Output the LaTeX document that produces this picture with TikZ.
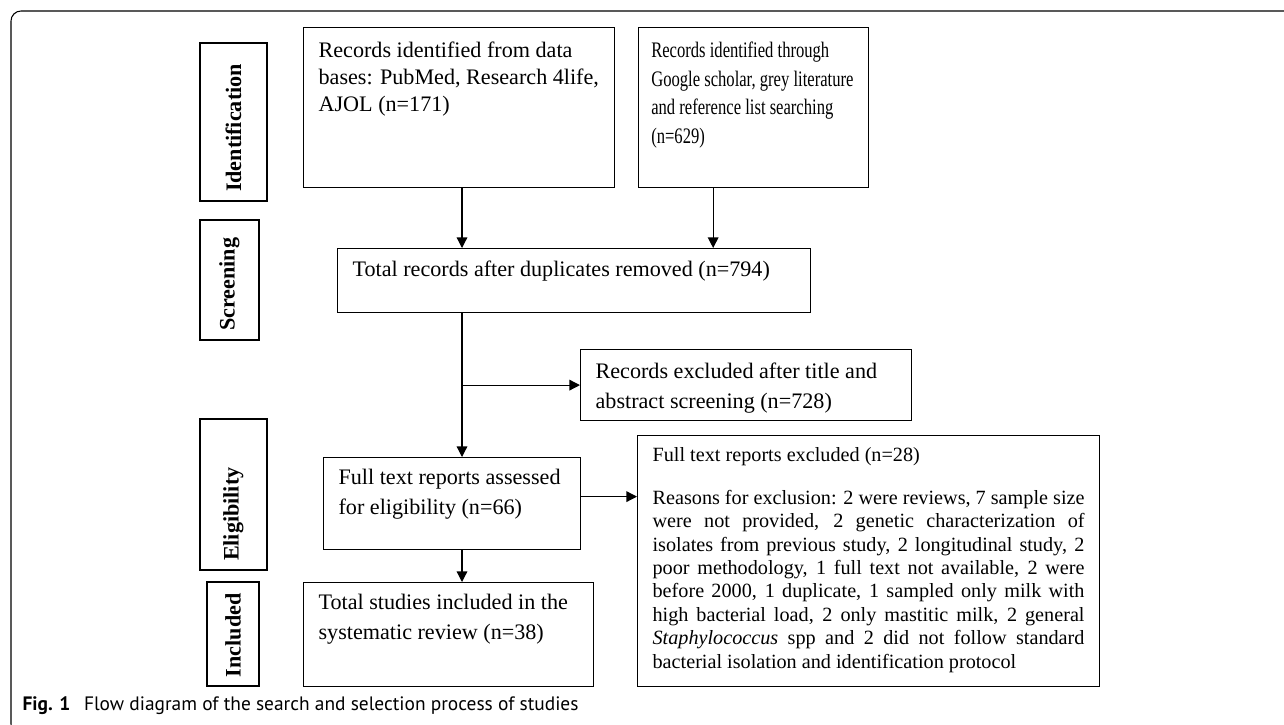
\documentclass[tikz,border=0pt]{standalone}
\usepackage{fontspec}
\setmainfont{Liberation Serif}
\newfontfamily\capfont{PT Sans}
\newfontfamily\narrowserif{Liberation Serif}[FakeStretch=0.75]
\usetikzlibrary{arrows.meta,positioning}
\tikzset{arrows={-{Triangle[length=6pt,width=6pt]}}}
\tikzset{
  box/.style={draw, rectangle, anchor=north west, line width=0.7pt,
    inner xsep=0.3cm, inner ysep=0pt, font=\fontsize{12.6}{16.5}\selectfont},
  phase/.style={draw, rectangle, rotate=90, line width=0.7pt, align=left,
    inner xsep=0.18cm, inner ysep=0pt, font=\fontsize{12.6}{15}\selectfont\bfseries},
  frame/.style={draw, line width=0.6pt, arrows=-},
}
\newcommand\boxtext[4]{\parbox[c][#1][t]{#2}{\raggedright\rule{0pt}{#3}#4}}

\begin{document}
\begin{tikzpicture}[x=0.02cm, y=-0.02cm, line width=0.7pt]

  \useasboundingbox (0,0) rectangle (1284,724);
  \draw[frame, rounded corners=0.2cm] (11,11) rectangle (1330,734);

  % phases on the left
  \node[phase, text width=2.8cm, minimum height=1.34cm] (ident) at (233.5,122) {Identification};
  \node[phase, text width=2.04cm, minimum height=1.18cm] (screen) at (229.5,280) {Screening};
  \node[phase, text width=2.66cm, minimum height=1.34cm] (elig) at (233.5,494.5) {Eligibility};
  \node[phase, text width=1.72cm, minimum height=1.04cm] (incl) at (233,634) {Included};

  % flow boxes
  \node[box, font=\fontsize{12.6}{15.4}\selectfont] (dbases) at (303,27)
    {\boxtext{3.2cm}{5.62cm}{0.6cm}{Records identified from data\\ bases: PubMed, Research 4life,\\ AJOL (n=171)}};
  \node[box, inner xsep=0.25cm, font=\narrowserif\fontsize{12.6}{16.2}\selectfont] (google)
    [right=0.46cm of dbases.north east, anchor=north west]
    {\boxtext{3.2cm}{4.1cm}{0.6cm}{Records identified through\\ Google scholar, grey literature\\ and reference list searching\\ (n=629)}};
  \node[box] (dedup) at (337,248)
    {\boxtext{1.28cm}{8.86cm}{0.56cm}{Total records after duplicates removed (n=794)}};
  \node[box, font=\fontsize{12.6}{17.1}\selectfont] (excl) at (580,349)
    {\boxtext{1.42cm}{6.02cm}{0.58cm}{Records excluded after title and\\ abstract screening (n=728)}};
  \node[box, font=\fontsize{12.6}{17.1}\selectfont] (fulltext) at (323,457)
    {\boxtext{1.84cm}{4.54cm}{0.54cm}{Full text reports assessed\\ for eligibility (n=66)}};
  \node[box, font=\fontsize{12.6}{17.1}\selectfont] (total) at (303,582)
    {\boxtext{2.08cm}{5.2cm}{0.54cm}{Total studies included in the\\ systematic review (n=38)}};
  \node[box, font=\fontsize{11.5}{13.3}\selectfont] (reasons) at (637,435)
    {\parbox[c][5.02cm][t]{8.64cm}{\rule{0pt}{0.52cm}Full text reports excluded (n=28)\par
     \vspace{0.39cm}Reasons for exclusion: 2 were reviews, 7 sample size\linebreak
     were not provided, 2 genetic characterization of\linebreak
     isolates from previous study, 2 longitudinal study, 2\linebreak
     poor methodology, 1 full text not available, 2 were\linebreak
     before 2000, 1 duplicate, 1 sampled only milk with\linebreak
     high bacterial load, 2 only mastitic milk, 2 general\linebreak
     \textit{Staphylococcus} spp and 2 did not follow standard\linebreak
     bacterial isolation and identification protocol}};

  \node[anchor=base west, inner sep=0pt, font=\capfont\fontsize{11.05}{13}\selectfont] (caption) at (22,710)
    {{\bfseries Fig. 1}\hspace{0.7em}Flow diagram of the search and selection process of studies};

  % arrows
  \coordinate (trunk) at (462,0);
  \draw (dbases.south -| trunk) -- (dedup.north -| trunk);
  \draw ([xshift=1.5cm]google.south west) -- ([xshift=1.5cm]google.south west |- dedup.north);
  \draw (dedup.south -| trunk) -- (fulltext.north -| trunk);
  \draw (excl.west -| trunk) -- (excl.west);
  \draw ([yshift=0.14cm]fulltext.east) -- ([yshift=0.14cm]fulltext.east -| reasons.west);
  \draw (fulltext.south -| trunk) -- (total.north -| trunk);
\end{tikzpicture}
\end{document}
